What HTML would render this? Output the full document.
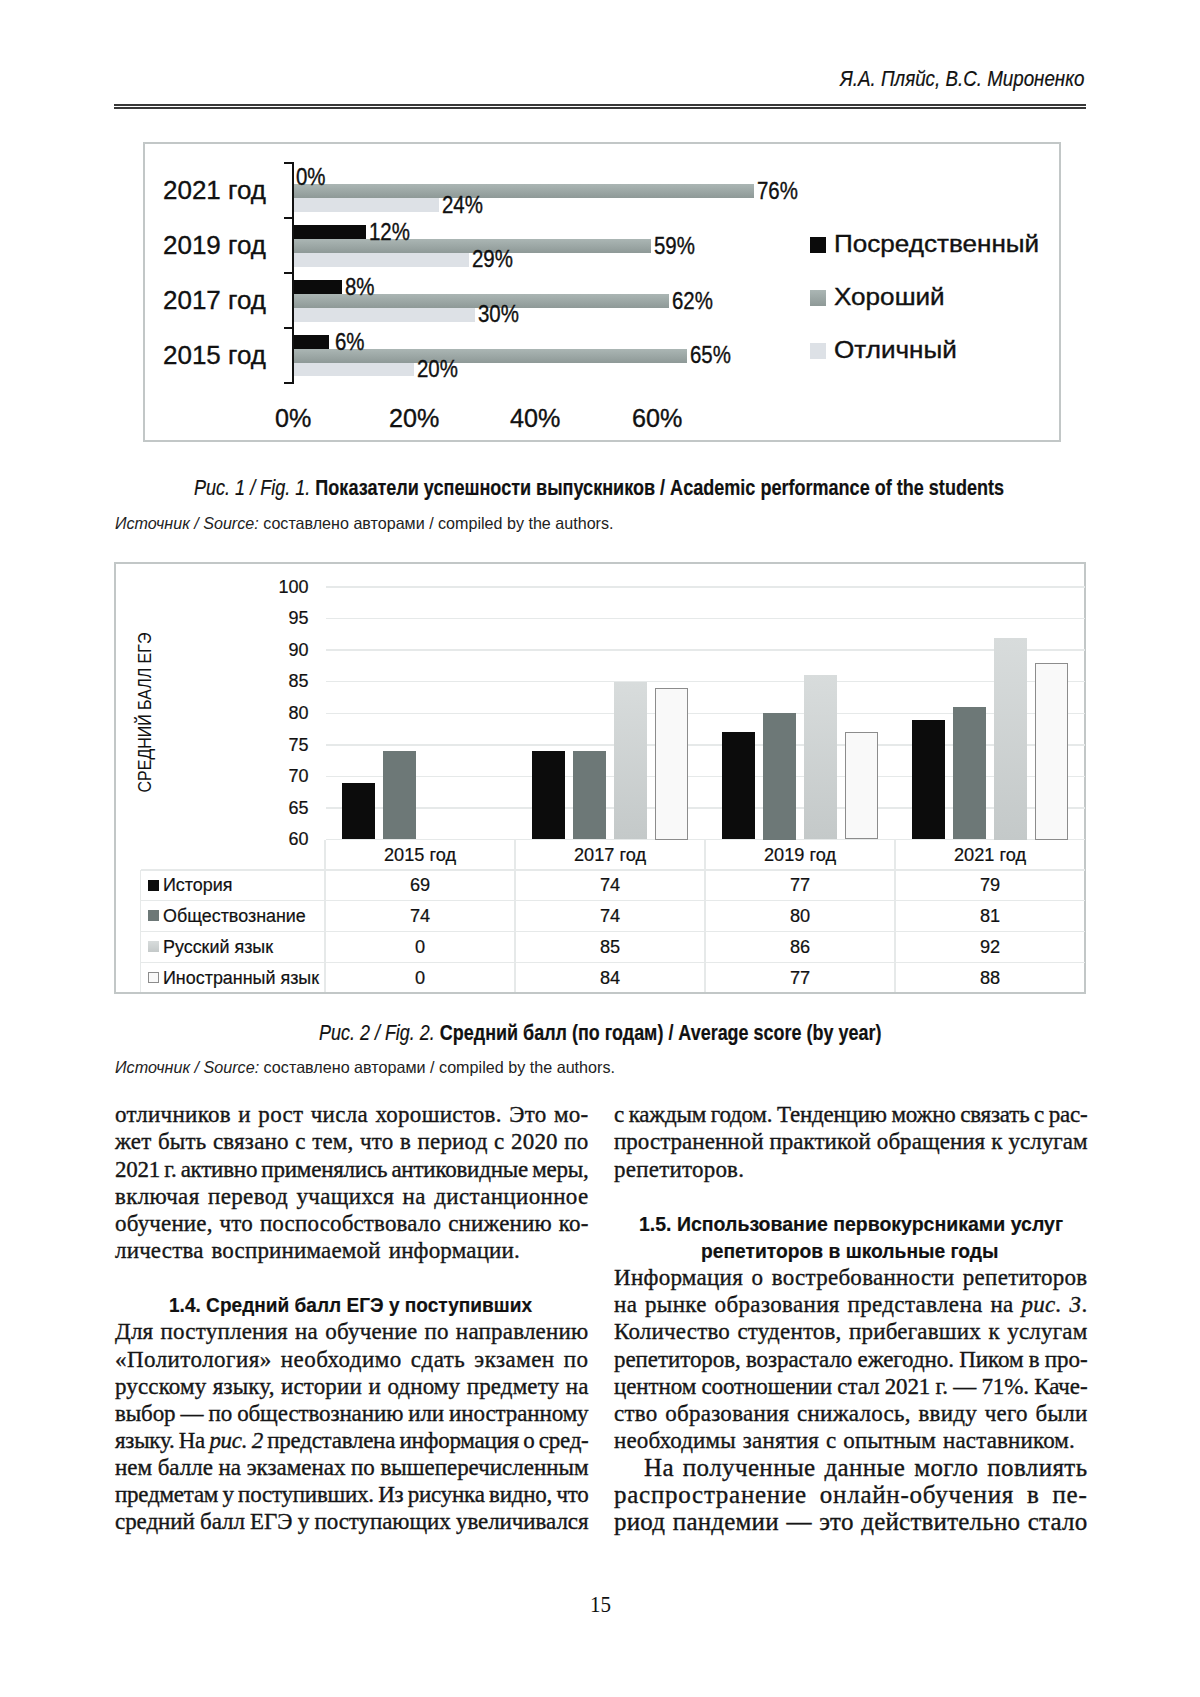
<!DOCTYPE html>
<html><head><meta charset="utf-8"><style>
html,body{margin:0;padding:0;background:#fff;}
body{width:1200px;height:1697px;position:relative;overflow:hidden;}
.t{position:absolute;white-space:nowrap;}
</style></head><body>
<div style="position:absolute;left:113.5px;top:104.1px;width:972px;height:1.8px;background:#383838"></div>
<div style="position:absolute;left:113.5px;top:107.1px;width:972px;height:1.8px;background:#383838"></div>
<div style="position:absolute;left:142.7px;top:141.8px;width:918.3px;height:300px;border:2px solid #c2c7c7;box-sizing:border-box"></div>
<div style="position:absolute;left:292px;top:162.4px;width:2px;height:221.6px;background:#111"></div>
<div style="position:absolute;left:283.5px;top:162.4px;width:10px;height:2px;background:#111"></div>
<div style="position:absolute;left:283.5px;top:217.3px;width:10px;height:2px;background:#111"></div>
<div style="position:absolute;left:283.5px;top:272.2px;width:10px;height:2px;background:#111"></div>
<div style="position:absolute;left:283.5px;top:327.1px;width:10px;height:2px;background:#111"></div>
<div style="position:absolute;left:283.5px;top:382.0px;width:10px;height:2px;background:#111"></div>
<div style="position:absolute;left:294px;top:184.2px;width:459.94px;height:13.8px;background:linear-gradient(#abb6b4,#8e9997)"></div>
<div style="position:absolute;left:294px;top:198.0px;width:144.56px;height:13.8px;background:#dde1e6"></div>
<div style="position:absolute;left:294px;top:225.3px;width:71.78px;height:13.8px;background:#0b0b0b"></div>
<div style="position:absolute;left:294px;top:239.1px;width:356.84px;height:13.8px;background:linear-gradient(#abb6b4,#8e9997)"></div>
<div style="position:absolute;left:294px;top:252.9px;width:174.88px;height:13.8px;background:#dde1e6"></div>
<div style="position:absolute;left:294px;top:280.2px;width:47.52px;height:13.8px;background:#0b0b0b"></div>
<div style="position:absolute;left:294px;top:294.0px;width:375.03px;height:13.8px;background:linear-gradient(#abb6b4,#8e9997)"></div>
<div style="position:absolute;left:294px;top:307.8px;width:180.95px;height:13.8px;background:#dde1e6"></div>
<div style="position:absolute;left:294px;top:335.1px;width:35.39px;height:13.8px;background:#0b0b0b"></div>
<div style="position:absolute;left:294px;top:348.9px;width:393.23px;height:13.8px;background:linear-gradient(#abb6b4,#8e9997)"></div>
<div style="position:absolute;left:294px;top:362.7px;width:120.3px;height:13.8px;background:#dde1e6"></div>
<div style="position:absolute;left:809.8px;top:237.3px;width:16.6px;height:15.4px;background:#0b0b0b"></div>
<div style="position:absolute;left:809.8px;top:290.3px;width:16.6px;height:15.4px;background:linear-gradient(#abb6b4,#8e9997)"></div>
<div style="position:absolute;left:809.8px;top:343.3px;width:16.6px;height:15.4px;background:#dde1e6"></div>
<div style="position:absolute;left:113.5px;top:562px;width:972.25px;height:431.5px;border:2px solid #c2c7c7;box-sizing:border-box"></div>
<div style="position:absolute;left:325.5px;top:807.19px;width:759px;height:1.5px;background:#e6e9e9"></div>
<div style="position:absolute;left:325.5px;top:775.62px;width:759px;height:1.5px;background:#e6e9e9"></div>
<div style="position:absolute;left:325.5px;top:744.06px;width:759px;height:1.5px;background:#e6e9e9"></div>
<div style="position:absolute;left:325.5px;top:712.5px;width:759px;height:1.5px;background:#e6e9e9"></div>
<div style="position:absolute;left:325.5px;top:680.94px;width:759px;height:1.5px;background:#e6e9e9"></div>
<div style="position:absolute;left:325.5px;top:649.38px;width:759px;height:1.5px;background:#e6e9e9"></div>
<div style="position:absolute;left:325.5px;top:617.81px;width:759px;height:1.5px;background:#e6e9e9"></div>
<div style="position:absolute;left:325.5px;top:586.25px;width:759px;height:1.5px;background:#e6e9e9"></div>
<div style="position:absolute;left:-6.20px;top:702.75px;width:300px;height:19px;line-height:19px;text-align:center;font-family:'Liberation Sans',sans-serif;font-size:19px;color:#111;white-space:nowrap;transform:rotate(-90deg) scaleX(0.84);">СРЕДНИЙ БАЛЛ ЕГЭ</div>
<div style="position:absolute;left:325.5px;top:838.75px;width:759px;height:1.5px;background:#e6e9e9"></div>
<div style="position:absolute;left:140.5px;top:869.25px;width:944px;height:1.5px;background:#e6e9e9"></div>
<div style="position:absolute;left:140.5px;top:899.95px;width:944px;height:1.5px;background:#e6e9e9"></div>
<div style="position:absolute;left:140.5px;top:930.75px;width:944px;height:1.5px;background:#e6e9e9"></div>
<div style="position:absolute;left:140.5px;top:961.55px;width:944px;height:1.5px;background:#e6e9e9"></div>
<div style="position:absolute;left:324.25px;top:839.5px;width:1.5px;height:152.5px;background:#e6e9e9"></div>
<div style="position:absolute;left:514.25px;top:839.5px;width:1.5px;height:152.5px;background:#e6e9e9"></div>
<div style="position:absolute;left:704.25px;top:839.5px;width:1.5px;height:152.5px;background:#e6e9e9"></div>
<div style="position:absolute;left:894.25px;top:839.5px;width:1.5px;height:152.5px;background:#e6e9e9"></div>
<div style="position:absolute;left:139.75px;top:870px;width:1.5px;height:122px;background:#e6e9e9"></div>
<div style="position:absolute;left:342px;top:782.69px;width:33px;height:56.81px;background:#0c0c0c"></div>
<div style="position:absolute;left:383px;top:751.12px;width:33px;height:88.38px;background:#6d7877"></div>
<div style="position:absolute;left:532px;top:751.12px;width:33px;height:88.38px;background:#0c0c0c"></div>
<div style="position:absolute;left:573px;top:751.12px;width:33px;height:88.38px;background:#6d7877"></div>
<div style="position:absolute;left:614px;top:681.69px;width:33px;height:157.81px;background:linear-gradient(#d8dcdc,#c4c9c9)"></div>
<div style="position:absolute;left:655px;top:688.0px;width:33px;height:151.5px;background:#f9f9f9;border:1px solid #8c8c8c;box-sizing:border-box"></div>
<div style="position:absolute;left:722px;top:732.19px;width:33px;height:107.31px;background:#0c0c0c"></div>
<div style="position:absolute;left:763px;top:713.25px;width:33px;height:126.25px;background:#6d7877"></div>
<div style="position:absolute;left:804px;top:675.38px;width:33px;height:164.12px;background:linear-gradient(#d8dcdc,#c4c9c9)"></div>
<div style="position:absolute;left:845px;top:732.19px;width:33px;height:107.31px;background:#f9f9f9;border:1px solid #8c8c8c;box-sizing:border-box"></div>
<div style="position:absolute;left:912px;top:719.56px;width:33px;height:119.94px;background:#0c0c0c"></div>
<div style="position:absolute;left:953px;top:706.94px;width:33px;height:132.56px;background:#6d7877"></div>
<div style="position:absolute;left:994px;top:637.5px;width:33px;height:202.0px;background:linear-gradient(#d8dcdc,#c4c9c9)"></div>
<div style="position:absolute;left:1035px;top:662.75px;width:33px;height:176.75px;background:#f9f9f9;border:1px solid #8c8c8c;box-sizing:border-box"></div>
<div style="position:absolute;left:147.5px;top:879.5px;width:11.2px;height:11.2px;background:#0c0c0c"></div>
<div style="position:absolute;left:147.5px;top:910.3px;width:11.2px;height:11.2px;background:#6d7877"></div>
<div style="position:absolute;left:147.5px;top:941.1px;width:11.2px;height:11.2px;background:linear-gradient(#d8dcdc,#c4c9c9)"></div>
<div style="position:absolute;left:147.5px;top:971.9px;width:11.2px;height:11.2px;background:#f9f9f9;border:1px solid #8c8c8c;box-sizing:border-box"></div>
<div class="t" style="left:840.00px;top:67.77px;font-family:'Liberation Sans', sans-serif;font-size:22px;line-height:22px;font-weight:400;font-style:italic;color:#111;"><span id="t0" style="display:inline-block;transform:scale(0.8532,1.0);transform-origin:0 18.63px;-webkit-text-stroke:0.2px #111;">Я.А. Пляйс, В.С. Мироненко</span></div>
<div class="t" style="left:162.50px;top:177.06px;font-family:'Liberation Sans', sans-serif;font-size:26.5px;line-height:26.5px;font-weight:400;font-style:normal;color:#111;"><span id="t1" style="display:inline-block;transform:scale(0.9807,1.0);transform-origin:0 22.44px;-webkit-text-stroke:0.35px #111;">2021 год</span></div>
<div class="t" style="left:296.00px;top:165.90px;font-family:'Liberation Sans', sans-serif;font-size:23.5px;line-height:23.5px;font-weight:400;font-style:normal;color:#111;"><span id="t2" style="display:inline-block;transform:scale(0.8700,1.0);transform-origin:0 19.90px;-webkit-text-stroke:0.35px #111;">0%</span></div>
<div class="t" style="left:756.94px;top:179.70px;font-family:'Liberation Sans', sans-serif;font-size:23.5px;line-height:23.5px;font-weight:400;font-style:normal;color:#111;"><span id="t3" style="display:inline-block;transform:scale(0.8700,1.0);transform-origin:0 19.90px;-webkit-text-stroke:0.35px #111;">76%</span></div>
<div class="t" style="left:441.56px;top:193.50px;font-family:'Liberation Sans', sans-serif;font-size:23.5px;line-height:23.5px;font-weight:400;font-style:normal;color:#111;"><span id="t4" style="display:inline-block;transform:scale(0.8700,1.0);transform-origin:0 19.90px;-webkit-text-stroke:0.35px #111;">24%</span></div>
<div class="t" style="left:162.50px;top:231.96px;font-family:'Liberation Sans', sans-serif;font-size:26.5px;line-height:26.5px;font-weight:400;font-style:normal;color:#111;"><span id="t5" style="display:inline-block;transform:scale(0.9807,1.0);transform-origin:0 22.44px;-webkit-text-stroke:0.35px #111;">2019 год</span></div>
<div class="t" style="left:368.78px;top:220.80px;font-family:'Liberation Sans', sans-serif;font-size:23.5px;line-height:23.5px;font-weight:400;font-style:normal;color:#111;"><span id="t6" style="display:inline-block;transform:scale(0.8700,1.0);transform-origin:0 19.90px;-webkit-text-stroke:0.35px #111;">12%</span></div>
<div class="t" style="left:653.84px;top:234.60px;font-family:'Liberation Sans', sans-serif;font-size:23.5px;line-height:23.5px;font-weight:400;font-style:normal;color:#111;"><span id="t7" style="display:inline-block;transform:scale(0.8700,1.0);transform-origin:0 19.90px;-webkit-text-stroke:0.35px #111;">59%</span></div>
<div class="t" style="left:471.88px;top:248.40px;font-family:'Liberation Sans', sans-serif;font-size:23.5px;line-height:23.5px;font-weight:400;font-style:normal;color:#111;"><span id="t8" style="display:inline-block;transform:scale(0.8700,1.0);transform-origin:0 19.90px;-webkit-text-stroke:0.35px #111;">29%</span></div>
<div class="t" style="left:162.50px;top:286.86px;font-family:'Liberation Sans', sans-serif;font-size:26.5px;line-height:26.5px;font-weight:400;font-style:normal;color:#111;"><span id="t9" style="display:inline-block;transform:scale(0.9807,1.0);transform-origin:0 22.44px;-webkit-text-stroke:0.35px #111;">2017 год</span></div>
<div class="t" style="left:344.52px;top:275.70px;font-family:'Liberation Sans', sans-serif;font-size:23.5px;line-height:23.5px;font-weight:400;font-style:normal;color:#111;"><span id="t10" style="display:inline-block;transform:scale(0.8700,1.0);transform-origin:0 19.90px;-webkit-text-stroke:0.35px #111;">8%</span></div>
<div class="t" style="left:672.03px;top:289.50px;font-family:'Liberation Sans', sans-serif;font-size:23.5px;line-height:23.5px;font-weight:400;font-style:normal;color:#111;"><span id="t11" style="display:inline-block;transform:scale(0.8700,1.0);transform-origin:0 19.90px;-webkit-text-stroke:0.35px #111;">62%</span></div>
<div class="t" style="left:477.95px;top:303.30px;font-family:'Liberation Sans', sans-serif;font-size:23.5px;line-height:23.5px;font-weight:400;font-style:normal;color:#111;"><span id="t12" style="display:inline-block;transform:scale(0.8700,1.0);transform-origin:0 19.90px;-webkit-text-stroke:0.35px #111;">30%</span></div>
<div class="t" style="left:162.50px;top:341.76px;font-family:'Liberation Sans', sans-serif;font-size:26.5px;line-height:26.5px;font-weight:400;font-style:normal;color:#111;"><span id="t13" style="display:inline-block;transform:scale(0.9807,1.0);transform-origin:0 22.44px;-webkit-text-stroke:0.35px #111;">2015 год</span></div>
<div class="t" style="left:334.89px;top:330.60px;font-family:'Liberation Sans', sans-serif;font-size:23.5px;line-height:23.5px;font-weight:400;font-style:normal;color:#111;"><span id="t14" style="display:inline-block;transform:scale(0.8700,1.0);transform-origin:0 19.90px;-webkit-text-stroke:0.35px #111;">6%</span></div>
<div class="t" style="left:690.23px;top:344.40px;font-family:'Liberation Sans', sans-serif;font-size:23.5px;line-height:23.5px;font-weight:400;font-style:normal;color:#111;"><span id="t15" style="display:inline-block;transform:scale(0.8700,1.0);transform-origin:0 19.90px;-webkit-text-stroke:0.35px #111;">65%</span></div>
<div class="t" style="left:417.30px;top:358.20px;font-family:'Liberation Sans', sans-serif;font-size:23.5px;line-height:23.5px;font-weight:400;font-style:normal;color:#111;"><span id="t16" style="display:inline-block;transform:scale(0.8700,1.0);transform-origin:0 19.90px;-webkit-text-stroke:0.35px #111;">20%</span></div>
<div class="t" style="left:274.83px;top:405.99px;font-family:'Liberation Sans', sans-serif;font-size:25.4px;line-height:25.4px;font-weight:400;font-style:normal;color:#111;"><span id="t17" style="display:inline-block;transform:scale(0.9900,1.0);transform-origin:0 21.51px;-webkit-text-stroke:0.35px #111;">0%</span></div>
<div class="t" style="left:389.14px;top:405.99px;font-family:'Liberation Sans', sans-serif;font-size:25.4px;line-height:25.4px;font-weight:400;font-style:normal;color:#111;"><span id="t18" style="display:inline-block;transform:scale(0.9900,1.0);transform-origin:0 21.51px;-webkit-text-stroke:0.35px #111;">20%</span></div>
<div class="t" style="left:510.44px;top:405.99px;font-family:'Liberation Sans', sans-serif;font-size:25.4px;line-height:25.4px;font-weight:400;font-style:normal;color:#111;"><span id="t19" style="display:inline-block;transform:scale(0.9900,1.0);transform-origin:0 21.51px;-webkit-text-stroke:0.35px #111;">40%</span></div>
<div class="t" style="left:631.74px;top:405.99px;font-family:'Liberation Sans', sans-serif;font-size:25.4px;line-height:25.4px;font-weight:400;font-style:normal;color:#111;"><span id="t20" style="display:inline-block;transform:scale(0.9900,1.0);transform-origin:0 21.51px;-webkit-text-stroke:0.35px #111;">60%</span></div>
<div class="t" style="left:833.60px;top:232.60px;font-family:'Liberation Sans', sans-serif;font-size:23.5px;line-height:23.5px;font-weight:400;font-style:normal;color:#111;"><span id="t21" style="display:inline-block;transform:scale(1.1100,1.0);transform-origin:0 19.90px;-webkit-text-stroke:0.35px #111;">Посредственный</span></div>
<div class="t" style="left:833.60px;top:285.60px;font-family:'Liberation Sans', sans-serif;font-size:23.5px;line-height:23.5px;font-weight:400;font-style:normal;color:#111;"><span id="t22" style="display:inline-block;transform:scale(1.1100,1.0);transform-origin:0 19.90px;-webkit-text-stroke:0.35px #111;">Хороший</span></div>
<div class="t" style="left:833.60px;top:338.60px;font-family:'Liberation Sans', sans-serif;font-size:23.5px;line-height:23.5px;font-weight:400;font-style:normal;color:#111;"><span id="t23" style="display:inline-block;transform:scale(1.1100,1.0);transform-origin:0 19.90px;-webkit-text-stroke:0.35px #111;">Отличный</span></div>
<div class="t" style="left:194.40px;top:477.35px;font-family:'Liberation Sans', sans-serif;font-size:22.5px;line-height:22.5px;font-weight:700;font-style:normal;color:#111;"><span id="t24" style="display:inline-block;transform:scale(0.8020,1.0);transform-origin:0 19.05px;-webkit-text-stroke:0.2px #111;"><i style="font-weight:400">Рис. 1 / Fig. 1.</i> Показатели успешности выпускников / Academic performance of the students</span></div>
<div class="t" style="left:115.00px;top:514.83px;font-family:'Liberation Sans', sans-serif;font-size:16.5px;line-height:16.5px;font-weight:400;font-style:normal;color:#222;"><span id="t25" style="display:inline-block;transform:scale(0.9757,1.0);transform-origin:0 13.97px;"><i>Источник / Source:</i> составлено авторами / compiled by the authors.</span></div>
<div class="t" style="left:288.47px;top:798.70px;font-family:'Liberation Sans', sans-serif;font-size:18px;line-height:18px;font-weight:400;font-style:normal;color:#111;"><span id="t26" style="display:inline-block;transform:scale(1.0000,1.0);transform-origin:0 15.24px;-webkit-text-stroke:0.2px #111;">65</span></div>
<div class="t" style="left:288.47px;top:767.13px;font-family:'Liberation Sans', sans-serif;font-size:18px;line-height:18px;font-weight:400;font-style:normal;color:#111;"><span id="t27" style="display:inline-block;transform:scale(1.0000,1.0);transform-origin:0 15.24px;-webkit-text-stroke:0.2px #111;">70</span></div>
<div class="t" style="left:288.47px;top:735.57px;font-family:'Liberation Sans', sans-serif;font-size:18px;line-height:18px;font-weight:400;font-style:normal;color:#111;"><span id="t28" style="display:inline-block;transform:scale(1.0000,1.0);transform-origin:0 15.24px;-webkit-text-stroke:0.2px #111;">75</span></div>
<div class="t" style="left:288.47px;top:704.01px;font-family:'Liberation Sans', sans-serif;font-size:18px;line-height:18px;font-weight:400;font-style:normal;color:#111;"><span id="t29" style="display:inline-block;transform:scale(1.0000,1.0);transform-origin:0 15.24px;-webkit-text-stroke:0.2px #111;">80</span></div>
<div class="t" style="left:288.47px;top:672.45px;font-family:'Liberation Sans', sans-serif;font-size:18px;line-height:18px;font-weight:400;font-style:normal;color:#111;"><span id="t30" style="display:inline-block;transform:scale(1.0000,1.0);transform-origin:0 15.24px;-webkit-text-stroke:0.2px #111;">85</span></div>
<div class="t" style="left:288.47px;top:640.88px;font-family:'Liberation Sans', sans-serif;font-size:18px;line-height:18px;font-weight:400;font-style:normal;color:#111;"><span id="t31" style="display:inline-block;transform:scale(1.0000,1.0);transform-origin:0 15.24px;-webkit-text-stroke:0.2px #111;">90</span></div>
<div class="t" style="left:288.47px;top:609.32px;font-family:'Liberation Sans', sans-serif;font-size:18px;line-height:18px;font-weight:400;font-style:normal;color:#111;"><span id="t32" style="display:inline-block;transform:scale(1.0000,1.0);transform-origin:0 15.24px;-webkit-text-stroke:0.2px #111;">95</span></div>
<div class="t" style="left:278.45px;top:577.76px;font-family:'Liberation Sans', sans-serif;font-size:18px;line-height:18px;font-weight:400;font-style:normal;color:#111;"><span id="t33" style="display:inline-block;transform:scale(1.0000,1.0);transform-origin:0 15.24px;-webkit-text-stroke:0.2px #111;">100</span></div>
<div class="t" style="left:288.47px;top:830.26px;font-family:'Liberation Sans', sans-serif;font-size:18px;line-height:18px;font-weight:400;font-style:normal;color:#111;"><span id="t34" style="display:inline-block;transform:scale(1.0000,1.0);transform-origin:0 15.24px;-webkit-text-stroke:0.2px #111;">60</span></div>
<div class="t" style="left:383.97px;top:846.26px;font-family:'Liberation Sans', sans-serif;font-size:18px;line-height:18px;font-weight:400;font-style:normal;color:#111;"><span id="t35" style="display:inline-block;transform:scale(1.0100,1.0);transform-origin:0 15.24px;-webkit-text-stroke:0.2px #111;">2015 год</span></div>
<div class="t" style="left:409.88px;top:876.16px;font-family:'Liberation Sans', sans-serif;font-size:18px;line-height:18px;font-weight:400;font-style:normal;color:#111;"><span id="t36" style="display:inline-block;transform:scale(1.0100,1.0);transform-origin:0 15.24px;-webkit-text-stroke:0.2px #111;">69</span></div>
<div class="t" style="left:409.88px;top:906.96px;font-family:'Liberation Sans', sans-serif;font-size:18px;line-height:18px;font-weight:400;font-style:normal;color:#111;"><span id="t37" style="display:inline-block;transform:scale(1.0100,1.0);transform-origin:0 15.24px;-webkit-text-stroke:0.2px #111;">74</span></div>
<div class="t" style="left:414.94px;top:937.76px;font-family:'Liberation Sans', sans-serif;font-size:18px;line-height:18px;font-weight:400;font-style:normal;color:#111;"><span id="t38" style="display:inline-block;transform:scale(1.0100,1.0);transform-origin:0 15.24px;-webkit-text-stroke:0.2px #111;">0</span></div>
<div class="t" style="left:414.94px;top:968.56px;font-family:'Liberation Sans', sans-serif;font-size:18px;line-height:18px;font-weight:400;font-style:normal;color:#111;"><span id="t39" style="display:inline-block;transform:scale(1.0100,1.0);transform-origin:0 15.24px;-webkit-text-stroke:0.2px #111;">0</span></div>
<div class="t" style="left:573.97px;top:846.26px;font-family:'Liberation Sans', sans-serif;font-size:18px;line-height:18px;font-weight:400;font-style:normal;color:#111;"><span id="t40" style="display:inline-block;transform:scale(1.0100,1.0);transform-origin:0 15.24px;-webkit-text-stroke:0.2px #111;">2017 год</span></div>
<div class="t" style="left:599.88px;top:876.16px;font-family:'Liberation Sans', sans-serif;font-size:18px;line-height:18px;font-weight:400;font-style:normal;color:#111;"><span id="t41" style="display:inline-block;transform:scale(1.0100,1.0);transform-origin:0 15.24px;-webkit-text-stroke:0.2px #111;">74</span></div>
<div class="t" style="left:599.88px;top:906.96px;font-family:'Liberation Sans', sans-serif;font-size:18px;line-height:18px;font-weight:400;font-style:normal;color:#111;"><span id="t42" style="display:inline-block;transform:scale(1.0100,1.0);transform-origin:0 15.24px;-webkit-text-stroke:0.2px #111;">74</span></div>
<div class="t" style="left:599.88px;top:937.76px;font-family:'Liberation Sans', sans-serif;font-size:18px;line-height:18px;font-weight:400;font-style:normal;color:#111;"><span id="t43" style="display:inline-block;transform:scale(1.0100,1.0);transform-origin:0 15.24px;-webkit-text-stroke:0.2px #111;">85</span></div>
<div class="t" style="left:599.88px;top:968.56px;font-family:'Liberation Sans', sans-serif;font-size:18px;line-height:18px;font-weight:400;font-style:normal;color:#111;"><span id="t44" style="display:inline-block;transform:scale(1.0100,1.0);transform-origin:0 15.24px;-webkit-text-stroke:0.2px #111;">84</span></div>
<div class="t" style="left:763.97px;top:846.26px;font-family:'Liberation Sans', sans-serif;font-size:18px;line-height:18px;font-weight:400;font-style:normal;color:#111;"><span id="t45" style="display:inline-block;transform:scale(1.0100,1.0);transform-origin:0 15.24px;-webkit-text-stroke:0.2px #111;">2019 год</span></div>
<div class="t" style="left:789.88px;top:876.16px;font-family:'Liberation Sans', sans-serif;font-size:18px;line-height:18px;font-weight:400;font-style:normal;color:#111;"><span id="t46" style="display:inline-block;transform:scale(1.0100,1.0);transform-origin:0 15.24px;-webkit-text-stroke:0.2px #111;">77</span></div>
<div class="t" style="left:789.88px;top:906.96px;font-family:'Liberation Sans', sans-serif;font-size:18px;line-height:18px;font-weight:400;font-style:normal;color:#111;"><span id="t47" style="display:inline-block;transform:scale(1.0100,1.0);transform-origin:0 15.24px;-webkit-text-stroke:0.2px #111;">80</span></div>
<div class="t" style="left:789.88px;top:937.76px;font-family:'Liberation Sans', sans-serif;font-size:18px;line-height:18px;font-weight:400;font-style:normal;color:#111;"><span id="t48" style="display:inline-block;transform:scale(1.0100,1.0);transform-origin:0 15.24px;-webkit-text-stroke:0.2px #111;">86</span></div>
<div class="t" style="left:789.88px;top:968.56px;font-family:'Liberation Sans', sans-serif;font-size:18px;line-height:18px;font-weight:400;font-style:normal;color:#111;"><span id="t49" style="display:inline-block;transform:scale(1.0100,1.0);transform-origin:0 15.24px;-webkit-text-stroke:0.2px #111;">77</span></div>
<div class="t" style="left:953.97px;top:846.26px;font-family:'Liberation Sans', sans-serif;font-size:18px;line-height:18px;font-weight:400;font-style:normal;color:#111;"><span id="t50" style="display:inline-block;transform:scale(1.0100,1.0);transform-origin:0 15.24px;-webkit-text-stroke:0.2px #111;">2021 год</span></div>
<div class="t" style="left:979.88px;top:876.16px;font-family:'Liberation Sans', sans-serif;font-size:18px;line-height:18px;font-weight:400;font-style:normal;color:#111;"><span id="t51" style="display:inline-block;transform:scale(1.0100,1.0);transform-origin:0 15.24px;-webkit-text-stroke:0.2px #111;">79</span></div>
<div class="t" style="left:979.88px;top:906.96px;font-family:'Liberation Sans', sans-serif;font-size:18px;line-height:18px;font-weight:400;font-style:normal;color:#111;"><span id="t52" style="display:inline-block;transform:scale(1.0100,1.0);transform-origin:0 15.24px;-webkit-text-stroke:0.2px #111;">81</span></div>
<div class="t" style="left:979.88px;top:937.76px;font-family:'Liberation Sans', sans-serif;font-size:18px;line-height:18px;font-weight:400;font-style:normal;color:#111;"><span id="t53" style="display:inline-block;transform:scale(1.0100,1.0);transform-origin:0 15.24px;-webkit-text-stroke:0.2px #111;">92</span></div>
<div class="t" style="left:979.88px;top:968.56px;font-family:'Liberation Sans', sans-serif;font-size:18px;line-height:18px;font-weight:400;font-style:normal;color:#111;"><span id="t54" style="display:inline-block;transform:scale(1.0100,1.0);transform-origin:0 15.24px;-webkit-text-stroke:0.2px #111;">88</span></div>
<div class="t" style="left:163.00px;top:876.16px;font-family:'Liberation Sans', sans-serif;font-size:18px;line-height:18px;font-weight:400;font-style:normal;color:#111;"><span id="t55" style="display:inline-block;transform:scale(0.9950,1.0);transform-origin:0 15.24px;-webkit-text-stroke:0.2px #111;">История</span></div>
<div class="t" style="left:163.00px;top:906.96px;font-family:'Liberation Sans', sans-serif;font-size:18px;line-height:18px;font-weight:400;font-style:normal;color:#111;"><span id="t56" style="display:inline-block;transform:scale(0.9950,1.0);transform-origin:0 15.24px;-webkit-text-stroke:0.2px #111;">Обществознание</span></div>
<div class="t" style="left:163.00px;top:937.76px;font-family:'Liberation Sans', sans-serif;font-size:18px;line-height:18px;font-weight:400;font-style:normal;color:#111;"><span id="t57" style="display:inline-block;transform:scale(0.9950,1.0);transform-origin:0 15.24px;-webkit-text-stroke:0.2px #111;">Русский язык</span></div>
<div class="t" style="left:163.00px;top:968.56px;font-family:'Liberation Sans', sans-serif;font-size:18px;line-height:18px;font-weight:400;font-style:normal;color:#111;"><span id="t58" style="display:inline-block;transform:scale(0.9950,1.0);transform-origin:0 15.24px;-webkit-text-stroke:0.2px #111;">Иностранный язык</span></div>
<div class="t" style="left:319.30px;top:1021.65px;font-family:'Liberation Sans', sans-serif;font-size:22.5px;line-height:22.5px;font-weight:700;font-style:normal;color:#111;"><span id="t59" style="display:inline-block;transform:scale(0.7983,1.0);transform-origin:0 19.05px;-webkit-text-stroke:0.2px #111;"><i style="font-weight:400">Рис. 2 / Fig. 2.</i> Средний балл (по годам) / Average score (by year)</span></div>
<div class="t" style="left:115.00px;top:1058.73px;font-family:'Liberation Sans', sans-serif;font-size:16.5px;line-height:16.5px;font-weight:400;font-style:normal;color:#222;"><span id="t60" style="display:inline-block;transform:scale(0.9787,1.0);transform-origin:0 13.97px;"><i>Источник / Source:</i> составлено авторами / compiled by the authors.</span></div>
<div class="t" style="left:115.00px;top:1103.24px;font-family:'Liberation Serif', serif;font-size:23px;line-height:23px;font-weight:400;font-style:normal;color:#161616;"><span id="t61" style="display:inline-block;letter-spacing:0.289px;word-spacing:1.381px;-webkit-text-stroke:0.35px #161616;">отличников и рост числа хорошистов. Это мо-</span></div>
<div class="t" style="left:115.00px;top:1130.39px;font-family:'Liberation Serif', serif;font-size:23px;line-height:23px;font-weight:400;font-style:normal;color:#161616;"><span id="t62" style="display:inline-block;letter-spacing:0.191px;word-spacing:0.587px;-webkit-text-stroke:0.35px #161616;">жет быть связано с тем, что в период с 2020 по</span></div>
<div class="t" style="left:115.00px;top:1157.54px;font-family:'Liberation Serif', serif;font-size:23px;line-height:23px;font-weight:400;font-style:normal;color:#161616;"><span id="t63" style="display:inline-block;letter-spacing:-0.220px;word-spacing:-1.351px;-webkit-text-stroke:0.35px #161616;">2021 г. активно применялись антиковидные меры,</span></div>
<div class="t" style="left:115.00px;top:1184.69px;font-family:'Liberation Serif', serif;font-size:23px;line-height:23px;font-weight:400;font-style:normal;color:#161616;"><span id="t64" style="display:inline-block;letter-spacing:0.346px;word-spacing:2.363px;-webkit-text-stroke:0.35px #161616;">включая перевод учащихся на дистанционное</span></div>
<div class="t" style="left:115.00px;top:1211.84px;font-family:'Liberation Serif', serif;font-size:23px;line-height:23px;font-weight:400;font-style:normal;color:#161616;"><span id="t65" style="display:inline-block;letter-spacing:0.155px;word-spacing:1.113px;-webkit-text-stroke:0.35px #161616;">обучение, что поспособствовало снижению ко-</span></div>
<div class="t" style="left:115.00px;top:1238.99px;font-family:'Liberation Serif', serif;font-size:23px;line-height:23px;font-weight:400;font-style:normal;color:#161616;"><span id="t66" style="display:inline-block;letter-spacing:0.171px;word-spacing:1.997px;-webkit-text-stroke:0.35px #161616;">личества воспринимаемой информации.</span></div>
<div class="t" style="left:115.00px;top:1320.44px;font-family:'Liberation Serif', serif;font-size:23px;line-height:23px;font-weight:400;font-style:normal;color:#161616;"><span id="t67" style="display:inline-block;letter-spacing:0.213px;word-spacing:1.195px;-webkit-text-stroke:0.35px #161616;">Для поступления на обучение по направлению</span></div>
<div class="t" style="left:115.00px;top:1347.59px;font-family:'Liberation Serif', serif;font-size:23px;line-height:23px;font-weight:400;font-style:normal;color:#161616;"><span id="t68" style="display:inline-block;letter-spacing:0.443px;word-spacing:3.030px;-webkit-text-stroke:0.35px #161616;">«Политология» необходимо сдать экзамен по</span></div>
<div class="t" style="left:115.00px;top:1374.74px;font-family:'Liberation Serif', serif;font-size:23px;line-height:23px;font-weight:400;font-style:normal;color:#161616;"><span id="t69" style="display:inline-block;letter-spacing:0.133px;word-spacing:0.649px;-webkit-text-stroke:0.35px #161616;">русскому языку, истории и одному предмету на</span></div>
<div class="t" style="left:115.00px;top:1401.89px;font-family:'Liberation Serif', serif;font-size:23px;line-height:23px;font-weight:400;font-style:normal;color:#161616;"><span id="t70" style="display:inline-block;letter-spacing:-0.106px;word-spacing:-0.593px;-webkit-text-stroke:0.35px #161616;">выбор — по обществознанию или иностранному</span></div>
<div class="t" style="left:115.00px;top:1429.04px;font-family:'Liberation Serif', serif;font-size:23px;line-height:23px;font-weight:400;font-style:normal;color:#161616;"><span id="t71" style="display:inline-block;letter-spacing:-0.254px;word-spacing:-1.162px;-webkit-text-stroke:0.35px #161616;">языку. На <i>рис. 2</i> представлена информация о сред-</span></div>
<div class="t" style="left:115.00px;top:1456.19px;font-family:'Liberation Serif', serif;font-size:23px;line-height:23px;font-weight:400;font-style:normal;color:#161616;"><span id="t72" style="display:inline-block;letter-spacing:-0.014px;word-spacing:-0.083px;-webkit-text-stroke:0.35px #161616;">нем балле на экзаменах по вышеперечисленным</span></div>
<div class="t" style="left:115.00px;top:1483.34px;font-family:'Liberation Serif', serif;font-size:23px;line-height:23px;font-weight:400;font-style:normal;color:#161616;"><span id="t73" style="display:inline-block;letter-spacing:-0.233px;word-spacing:-1.191px;-webkit-text-stroke:0.35px #161616;">предметам у поступивших. Из рисунка видно, что</span></div>
<div class="t" style="left:115.00px;top:1510.49px;font-family:'Liberation Serif', serif;font-size:23px;line-height:23px;font-weight:400;font-style:normal;color:#161616;"><span id="t74" style="display:inline-block;letter-spacing:-0.070px;word-spacing:-0.399px;-webkit-text-stroke:0.35px #161616;">средний балл ЕГЭ у поступающих увеличивался</span></div>
<div class="t" style="left:614.00px;top:1103.24px;font-family:'Liberation Serif', serif;font-size:23px;line-height:23px;font-weight:400;font-style:normal;color:#161616;"><span id="t75" style="display:inline-block;letter-spacing:-0.204px;word-spacing:-0.893px;-webkit-text-stroke:0.35px #161616;">с каждым годом. Тенденцию можно связать с рас-</span></div>
<div class="t" style="left:614.00px;top:1130.39px;font-family:'Liberation Serif', serif;font-size:23px;line-height:23px;font-weight:400;font-style:normal;color:#161616;"><span id="t76" style="display:inline-block;letter-spacing:0.032px;word-spacing:0.227px;-webkit-text-stroke:0.35px #161616;">пространенной практикой обращения к услугам</span></div>
<div class="t" style="left:614.00px;top:1157.54px;font-family:'Liberation Serif', serif;font-size:23px;line-height:23px;font-weight:400;font-style:normal;color:#161616;"><span id="t77" style="display:inline-block;letter-spacing:0.227px;word-spacing:0.000px;-webkit-text-stroke:0.35px #161616;">репетиторов.</span></div>
<div class="t" style="left:614.00px;top:1266.14px;font-family:'Liberation Serif', serif;font-size:23px;line-height:23px;font-weight:400;font-style:normal;color:#161616;"><span id="t78" style="display:inline-block;letter-spacing:0.271px;word-spacing:2.471px;-webkit-text-stroke:0.35px #161616;">Информация о востребованности репетиторов</span></div>
<div class="t" style="left:614.00px;top:1293.29px;font-family:'Liberation Serif', serif;font-size:23px;line-height:23px;font-weight:400;font-style:normal;color:#161616;"><span id="t79" style="display:inline-block;letter-spacing:0.347px;word-spacing:1.695px;-webkit-text-stroke:0.35px #161616;">на рынке образования представлена на <i>рис. 3</i>.</span></div>
<div class="t" style="left:614.00px;top:1320.44px;font-family:'Liberation Serif', serif;font-size:23px;line-height:23px;font-weight:400;font-style:normal;color:#161616;"><span id="t80" style="display:inline-block;letter-spacing:0.204px;word-spacing:1.461px;-webkit-text-stroke:0.35px #161616;">Количество студентов, прибегавших к услугам</span></div>
<div class="t" style="left:614.00px;top:1347.59px;font-family:'Liberation Serif', serif;font-size:23px;line-height:23px;font-weight:400;font-style:normal;color:#161616;"><span id="t81" style="display:inline-block;letter-spacing:-0.065px;word-spacing:-0.396px;-webkit-text-stroke:0.35px #161616;">репетиторов, возрастало ежегодно. Пиком в про-</span></div>
<div class="t" style="left:614.00px;top:1374.74px;font-family:'Liberation Serif', serif;font-size:23px;line-height:23px;font-weight:400;font-style:normal;color:#161616;"><span id="t82" style="display:inline-block;letter-spacing:-0.091px;word-spacing:-0.392px;-webkit-text-stroke:0.35px #161616;">центном соотношении стал 2021 г. — 71%. Каче-</span></div>
<div class="t" style="left:614.00px;top:1401.89px;font-family:'Liberation Serif', serif;font-size:23px;line-height:23px;font-weight:400;font-style:normal;color:#161616;"><span id="t83" style="display:inline-block;letter-spacing:0.272px;word-spacing:1.561px;-webkit-text-stroke:0.35px #161616;">ство образования снижалось, ввиду чего были</span></div>
<div class="t" style="left:614.00px;top:1429.04px;font-family:'Liberation Serif', serif;font-size:23px;line-height:23px;font-weight:400;font-style:normal;color:#161616;"><span id="t84" style="display:inline-block;letter-spacing:0.155px;word-spacing:1.059px;-webkit-text-stroke:0.35px #161616;">необходимы занятия с опытным наставником.</span></div>
<div class="t" style="left:644.00px;top:1454.51px;font-family:'Liberation Serif', serif;font-size:25px;line-height:25px;font-weight:400;font-style:normal;color:#161616;"><span id="t85" style="display:inline-block;letter-spacing:0.389px;word-spacing:2.272px;-webkit-text-stroke:0.35px #161616;">На полученные данные могло повлиять</span></div>
<div class="t" style="left:614.00px;top:1481.66px;font-family:'Liberation Serif', serif;font-size:25px;line-height:25px;font-weight:400;font-style:normal;color:#161616;"><span id="t86" style="display:inline-block;letter-spacing:0.729px;word-spacing:5.996px;-webkit-text-stroke:0.35px #161616;">распространение онлайн-обучения в пе-</span></div>
<div class="t" style="left:614.00px;top:1508.81px;font-family:'Liberation Serif', serif;font-size:25px;line-height:25px;font-weight:400;font-style:normal;color:#161616;"><span id="t87" style="display:inline-block;letter-spacing:0.215px;word-spacing:1.120px;-webkit-text-stroke:0.35px #161616;">риод пандемии — это действительно стало</span></div>
<div class="t" style="left:168.50px;top:1294.69px;font-family:'Liberation Sans', sans-serif;font-size:20.8px;line-height:20.8px;font-weight:700;font-style:normal;color:#111;"><span id="t88" style="display:inline-block;transform:scale(0.9174,1.0);transform-origin:0 17.61px;-webkit-text-stroke:0.2px #111;">1.4. Средний балл ЕГЭ у поступивших</span></div>
<div class="t" style="left:638.50px;top:1213.64px;font-family:'Liberation Sans', sans-serif;font-size:20.8px;line-height:20.8px;font-weight:700;font-style:normal;color:#111;"><span id="t89" style="display:inline-block;transform:scale(0.9379,1.0);transform-origin:0 17.61px;-webkit-text-stroke:0.2px #111;">1.5. Использование первокурсниками услуг</span></div>
<div class="t" style="left:701.00px;top:1240.59px;font-family:'Liberation Sans', sans-serif;font-size:20.8px;line-height:20.8px;font-weight:700;font-style:normal;color:#111;"><span id="t90" style="display:inline-block;transform:scale(0.9258,1.0);transform-origin:0 17.61px;-webkit-text-stroke:0.2px #111;">репетиторов в школьные годы</span></div>
<div class="t" style="left:589.50px;top:1593.44px;font-family:'Liberation Serif', serif;font-size:23px;line-height:23px;font-weight:400;font-style:normal;color:#111;"><span id="t91" style="display:inline-block;transform:scale(0.9130,1.0);transform-origin:0 19.26px;">15</span></div>
</body></html>
